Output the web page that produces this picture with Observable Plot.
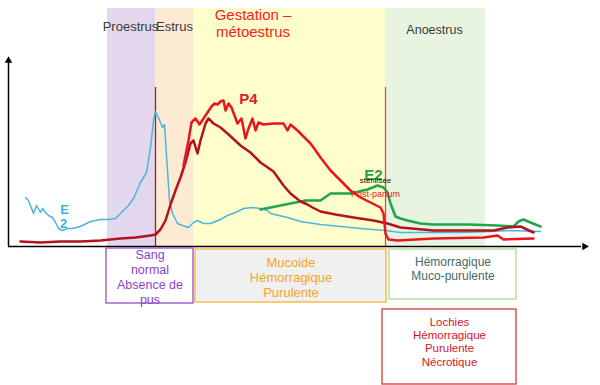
<!DOCTYPE html>
<html>
<head>
<meta charset="utf-8">
<script src="https://cdn.jsdelivr.net/npm/d3@7"></script>
<script src="https://cdn.jsdelivr.net/npm/@observablehq/plot@0.6"></script>
<style>
  html, body { margin: 0; padding: 0; background: #fff; }
  svg { display: block; }
</style>
</head>
<body>
<div id="chart"></div>
<script>
// ---- phases (time units) ----
const phaseNames = ["Proestrus", "Estrus", "Gestation", "Anoestrus"];
const phaseStart = [19.8, 29.4, 37, 75.4];
const phaseEnd   = [29.4, 37, 75.4, 95.4];
const phaseTop = 119;

// ---- hormone curves: [time, level] ----
const e2Cycle = [
  [3.4,24.5],[4,23],[5,16.5],[5.6,20.5],[6.4,17],[6.8,19],[7.4,17],[8,15.5],[8.8,14.5],[9.4,12],
  [10,9],[10.8,8],[11.8,9],[12.8,9],[14.4,10],[16.4,12.5],[18.4,13.5],[20,13.5],[21.4,14],[22.4,16.5],
  [24,20.5],[25,24],[26.4,32],[27.6,37],[28.4,49.5],[29,63],[29.4,67.5],[29.8,65.5],[30.4,62],[30.8,59.5],
  [31.2,61],[31.4,53],[31.8,38],[32.2,23],[32.8,16.5],[33.8,11.5],[34.8,10.5],[36,9.5],[37,12],[37.8,13],
  [39,11.5],[40.4,11.5],[42.4,13.5],[43.8,15.5],[45.4,17],[47,19],[48.8,19.5],[50.4,19],[51.8,18],[52.4,16.5],
  [55.8,14.5],[58.4,12.5],[62.4,11],[66.4,10],[70.4,9],[75.4,8],[78.4,7],[84.4,7],[90.4,7],[96.4,7.5],
  [100.4,8],[106.4,7.5]
];
const p4Cycle = [
  [2.4,2.5],[6.4,2],[10.4,2.5],[14.4,2.5],[18.4,3],[22.4,4],[25.4,4.5],[28.4,5.5],[29.4,6],[30.4,8.5],
  [31.4,13],[32.4,21],[33.4,28],[34.4,34.5],[35.4,42],[36.4,51.5],[37,53],[37.8,46.5],[38.4,53],[39.4,61.5],
  [40,64],[41,61.5],[42.4,59.5],[43.8,56.5],[46.4,50.5],[48.4,47],[50.4,42],[53,37.5],[55,30.5],[56.4,26.5],
  [58.4,22.5],[59.8,21],[60.8,19.5],[62.4,17.5],[65.4,16],[69,14.5],[73,13],[75.8,11.5],[78.4,9.5],[85,8],
  [91.8,8],[97,8],[99.8,9.5],[102.4,10],[105,7]
];
const p4Gestation = [
  [35,40.5],[36,53],[36.6,62],[37.4,64],[38.2,61],[39,64],[39.8,67],[40.6,70],[41.2,71.5],[41.8,71],
  [42.4,72.5],[43,73],[43.4,68],[44,71.5],[44.6,69.5],[45.2,65.5],[45.8,61.5],[46.6,64],[47.4,54],[48,59],
  [48.8,64],[49.4,58],[50,62],[51,61],[53,61.5],[55,61.5],[55.8,58],[56.4,61],[57.8,58],[59.4,54],
  [60.4,51.5],[61,49.5],[62.4,44.5],[64.4,38],[66.4,33],[68.4,28],[70.4,24.5],[72.4,22],[74.4,19.5],[75,16.5],
  [75.4,6.5],[76,3.5],[77.8,3],[85,4],[95,4.5],[97.8,5.5],[99,3.5],[105,4]
];
const e2Gestation = [
  [50.4,18.5],[53.4,20],[56.4,21.5],[59.4,23],[62.4,23],[64.4,26.5],[68.4,26.5],[71.8,28.5],[73.8,30.5],[75,29.5],
  [75.8,27],[76.4,21.5],[77.4,15],[78.4,14],[79.8,13],[82.4,11.5],[85,11],[91.8,11],[97.8,10.5],[101,10],
  [102,12.5],[103,13.5],[104.4,12],[106.4,10]
];

// ---- events ----
const ovulation = 29.4;
const partum = 75.4;
const eventTop = 79.5;

// ---- discharge boxes ----
const boxLabels = [
  "Sang\nnormal\nAbsence de\npus",
  "Mucoide\nHémorragique\nPurulente",
  "Hémorragique\nMuco-purulente",
  "Lochies\nHémorragique\nPurulente\nNécrotique"
];
const boxX1 = [19.6, 37.4, 76.2, 74.8];
const boxX2 = [37, 75.6, 101.6, 101.6];
const boxY1 = [-28.5, -28, -26.5, -69];
const boxY2 = [-1, -1.5, -1.5, -31.5];
const boxTextY = [-15, -15.25, -11, -47.5];

// ---- styles ----
const FONT = "Liberation Sans, Arial, Helvetica, sans-serif";
const phaseFill = ["#e2d7ec", "#fcebd2", "#fefecc", "#e7f4e0"];
const boxFill = ["#ffffff", "#f0f0f0", "#ffffff", "#ffffff"];
const boxStroke = ["#9152c8", "#f4b43a", "#a9dc8f", "#d23a3a"];
const boxTextColor = ["#8a45c8", "#f5a623", "#3f6b5f", "#d4161b"];

const phases = phaseNames.map((n, i) => ({name: n, x1: phaseStart[i], x2: phaseEnd[i], fill: phaseFill[i]}));
const boxes = boxLabels.map((t, i) => ({
  text: t, x1: boxX1[i], x2: boxX2[i], y1: boxY1[i], y2: boxY2[i],
  cx: (boxX1[i] + boxX2[i]) / 2, cy: boxTextY[i],
  fill: boxFill[i], stroke: boxStroke[i], color: boxTextColor[i]
}));
const toXY = arr => arr.map(([x, y]) => ({x, y}));

const chart = Plot.plot({
  width: 600,
  height: 385,
  margin: 0,
  x: {domain: [-1.6, 118.4], axis: null},
  y: {domain: [-69.5, 123], axis: null},
  style: {fontFamily: FONT, background: "#fff"},
  marks: [
    // phase bands
    Plot.rect(phases, {x1: "x1", x2: "x2", y1: 0, y2: phaseTop, fill: "fill"}),
    // phase labels
    Plot.text([{x: 24.4, y: 110, t: "Proestrus"}, {x: 33.2, y: 110, t: "Estrus"}],
      {x: "x", y: "y", text: "t", fill: "#3a3a3a", fontSize: 13}),
    Plot.text([{x: 85.2, y: 108.5, t: "Anoestrus"}],
      {x: "x", y: "y", text: "t", fill: "#3a3a3a", fontSize: 12.5}),
    Plot.text([{x: 48.9, y: 115.5, t: "Gestation –"}, {x: 48.9, y: 107, t: "métoestrus"}],
      {x: "x", y: "y", text: "t", fill: "#ff1a1a", fontSize: 15}),
    // event lines
    Plot.ruleX([ovulation], {y1: 0, y2: eventTop, stroke: "#a5172a", strokeWidth: 1.3}),
    Plot.ruleX([partum], {y1: 0, y2: eventTop, stroke: "#d2504f", strokeWidth: 1.3}),
    // curves
    Plot.line(toXY(e2Cycle), {x: "x", y: "y", stroke: "#4db4dd", strokeWidth: 1.5, curve: "linear"}),
    Plot.line(toXY(e2Gestation), {x: "x", y: "y", stroke: "#22a34c", strokeWidth: 2.6}),
    Plot.line(toXY(p4Cycle), {x: "x", y: "y", stroke: "#b3121e", strokeWidth: 2.5}),
    Plot.line(toXY(p4Gestation), {x: "x", y: "y", stroke: "#e8171d", strokeWidth: 2.5}),
    // curve labels
    Plot.text([{x: 48, y: 73.5, t: "P4"}], {x: "x", y: "y", text: "t", fill: "#e0201f", fontSize: 15, fontWeight: "bold"}),
    Plot.text([{x: 73, y: 35.5, t: "E2"}], {x: "x", y: "y", text: "t", fill: "#22a34c", fontSize: 15, fontWeight: "bold"}),
    Plot.text([{x: 73.4, y: 33, t: "stérilisée"}], {x: "x", y: "y", text: "t", fill: "#111", fontSize: 8}),
    Plot.text([{x: 73.4, y: 26, t: "Post-partum"}], {x: "x", y: "y", text: "t", fill: "#e8171d", fontSize: 9}),
    Plot.text([{x: 11.2, y: 18.5, t: "E"}, {x: 11, y: 11.5, t: "2"}], {x: "x", y: "y", text: "t", fill: "#3fb0df", fontSize: 13, fontWeight: "bold"}),
    // axes
    Plot.ruleX([0], {y1: 0, y2: 92.5, stroke: "#000", strokeWidth: 1.5}),
    Plot.ruleY([0], {x1: 0, x2: 114.6, stroke: "#000", strokeWidth: 1.5}),
    Plot.dot([{x: 0, y: 93}], {x: "x", y: "y", symbol: "triangle2", r: 3.6, fill: "#000", stroke: null}),
    Plot.dot([{x: 115.2, y: 0}], {x: "x", y: "y", symbol: "triangle2", r: 3.6, fill: "#000", stroke: null, rotate: 90}),
    // discharge boxes
    Plot.rect(boxes, {x1: "x1", x2: "x2", y1: "y1", y2: "y2", fill: "fill", stroke: "stroke", strokeWidth: 1.3}),
    Plot.text(boxes.slice(0, 1), {x: "cx", y: "cy", text: "text", fill: "color", fontSize: 12.5, lineHeight: 1.2}),
    Plot.text(boxes.slice(1, 2), {x: "cx", y: "cy", text: "text", fill: "color", fontSize: 13, lineHeight: 1.15}),
    Plot.text(boxes.slice(2, 3), {x: "cx", y: "cy", text: "text", fill: "color", fontSize: 12, lineHeight: 1.17}),
    Plot.text(boxes.slice(3, 4), {x: "cx", y: "cy", text: "text", fill: "color", fontSize: 11.5, lineHeight: 1.16})
  ]
});
document.getElementById("chart").appendChild(chart);
</script>
</body>
</html>
